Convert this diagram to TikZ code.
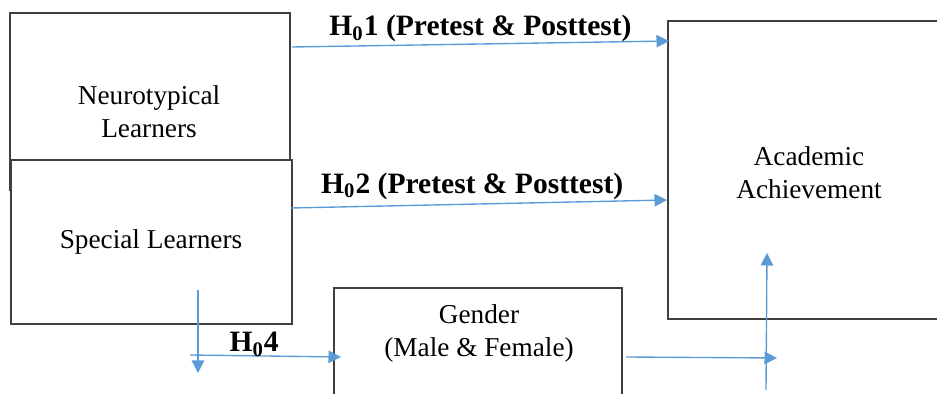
\documentclass[tikz,border=0pt]{standalone}
\usepackage{fontspec}
\setmainfont{Liberation Serif}
\usetikzlibrary{arrows.meta}
\definecolor{linkblue}{HTML}{5B9BD5}
\definecolor{boxgray}{HTML}{404040}
\tikzstyle{box} = [draw=boxgray,line width=0.7pt,fill=white,inner sep=0pt]
\tikzstyle{txt} = [align=center,font=\fontsize{12}{14.5}\selectfont]
\tikzstyle{hyp} = [text=black,font=\fontsize{13}{15}\selectfont\bfseries,inner sep=0pt]
\tikzstyle{arrow} = [linkblue,line width=0.6pt,-{Triangle[length=5.5pt,width=5.5pt]}]

\begin{document}
\begin{tikzpicture}[x=0.44pt,y=-0.44pt]
        \useasboundingbox (0,0) rectangle (937,394);
        \clip (0,0) rectangle (937,394);
        % boxes
        \node[box,minimum width=280*0.44pt,minimum height=177*0.44pt] (neuro) at (150,101.5) {};
        \node[box,minimum width=281*0.44pt,minimum height=164*0.44pt] (special) at (151.5,242) {};
        \node[box,minimum width=288*0.44pt,minimum height=132*0.44pt] (gender) at (478,354) {};
        \node[box,minimum width=282*0.44pt,minimum height=298*0.44pt] (acad) at (809,170) {};
        \node[txt] (neurotxt) at (149,111.5) {Neurotypical\\Learners};
        \node[txt] (specialtxt) at (151,242) {Special Learners};
        \node[txt] (gendertxt) at (479,333) {Gender\\(Male \& Female)};
        \node[txt] (acadtxt) at (809,173) {Academic\\Achievement};
        % free ends of the connectors
        \coordinate (h1s) at (292,47);
        \coordinate (h1e) at (669,41);
        \coordinate (h2s) at (291,208);
        \coordinate (h2e) at (667,200);
        \coordinate (dns) at (198,290);
        \coordinate (dne) at (198,373);
        \coordinate (h4s) at (190,355);
        \coordinate (h4e) at (341,357);
        \coordinate (gns) at (626,357);
        \coordinate (gne) at (777,358);
        \coordinate (ups) at (766,390);
        \coordinate (upe) at (767,253);
        \draw[arrow] (h1s) -- node[hyp,above=0.5pt]{H\textsubscript{0}1 (Pretest \& Posttest)} (h1e);
        \draw[arrow] (h2s) -- node[hyp,above=1.5pt,xshift=-3pt]{H\textsubscript{0}2 (Pretest \& Posttest)} (h2e);
        \draw[arrow] (dns) -- (dne);
        \draw[arrow] (h4s) -- node[hyp,above=-0.5pt,xshift=-5pt]{H\textsubscript{0}4} (h4e);
        \draw[arrow] (gns) -- (gne);
        \draw[arrow] (ups) -- (upe);
    \end{tikzpicture}
\end{document}
